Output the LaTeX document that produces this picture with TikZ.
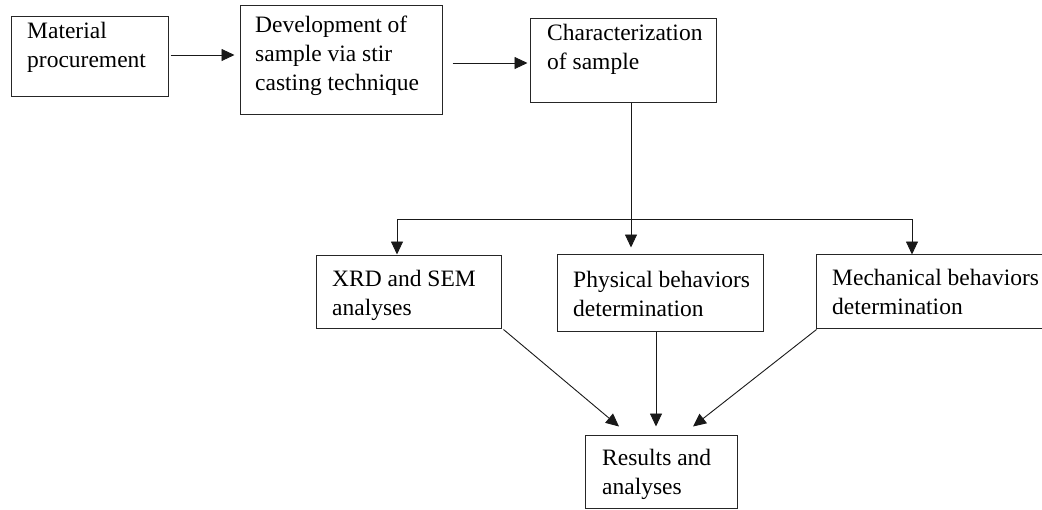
\documentclass[tikz,border=0pt]{standalone}
\usepackage{fontspec}
\setmainfont{Liberation Serif}
\usetikzlibrary{arrows.meta}
\begin{document}
\begin{tikzpicture}[x=1pt,y=-1pt,
  box/.style={draw=black!85,line width=1pt,rectangle,inner sep=0pt},
  txt/.style={anchor=north west,inner sep=0pt,align=left,font=\fontsize{23.5}{29}\selectfont},
  arr/.style={draw=black!90,line width=0.9pt,-{Triangle[length=13pt,width=12pt]}},
  ln/.style={draw=black!90,line width=0.9pt}]
\useasboundingbox (0,0) rectangle (1042,509);
\clip (0,0) rectangle (1042,509);
% boxes
\node[box,minimum width=157pt,minimum height=80pt] (mat) at (89.5,56) {};
\node[box,minimum width=202pt,minimum height=109pt] (dev) at (341,59.5) {};
\node[box,minimum width=186pt,minimum height=84pt] (chr) at (623,60) {};
\node[box,minimum width=185pt,minimum height=73pt] (xrd) at (408.5,291.5) {};
\node[box,minimum width=206pt,minimum height=77pt] (phy) at (660,292.5) {};
\node[box,minimum width=234pt,minimum height=74pt] (mec) at (933,291) {};
\node[box,minimum width=152pt,minimum height=73.5pt] (res) at (661,471.75) {};
% texts
\node[txt] (tmat) at (27,22) {Material\\procurement};
\node[txt] (tdev) at (255,16) {Development of\\sample via stir\\casting technique};
\node[txt] (tchr) at (547,24) {Characterization\\of sample};
\node[txt] (txrd) at (332,270) {XRD and SEM\\analyses};
\node[txt] (tphy) at (573,271) {Physical behaviors\\determination};
\node[txt] (tmec) at (832,269) {Mechanical behaviors\\determination};
\node[txt] (tres) at (602,449) {Results and\\analyses};
% connectors
\draw[arr,shorten <=2pt,shorten >=5pt] ([yshift=1pt]mat.east) -- ([yshift=1pt]mat.east -| dev.west);
\draw[arr,shorten <=10pt,shorten >=2pt] ([yshift=-3.5pt]dev.east) -- ([yshift=-3.5pt]dev.east -| chr.west);
\draw[arr,shorten >=6pt] ([xshift=8pt]chr.south) -- ([xshift=8pt]chr.south |- phy.north);
\coordinate (bl) at (397,219);
\coordinate (br) at (912,219);
\draw[ln] (bl) -- (br);
\draw[arr] (bl) -- (bl |- xrd.north);
\draw[arr,shorten >=-1pt] (br) -- (br |- mec.north);
\draw[arr] ([shift={(2pt,-1pt)}]xrd.south east) -- ([shift={(-42pt,8pt)}]res.north);
\draw[arr,shorten >=8pt] ([xshift=-4pt]phy.south) -- ([xshift=-4pt]phy.south |- res.north);
\draw[arr] ([shift={(1pt,-1pt)}]mec.south west) -- ([shift={(32pt,8pt)}]res.north);
\end{tikzpicture}
\end{document}
